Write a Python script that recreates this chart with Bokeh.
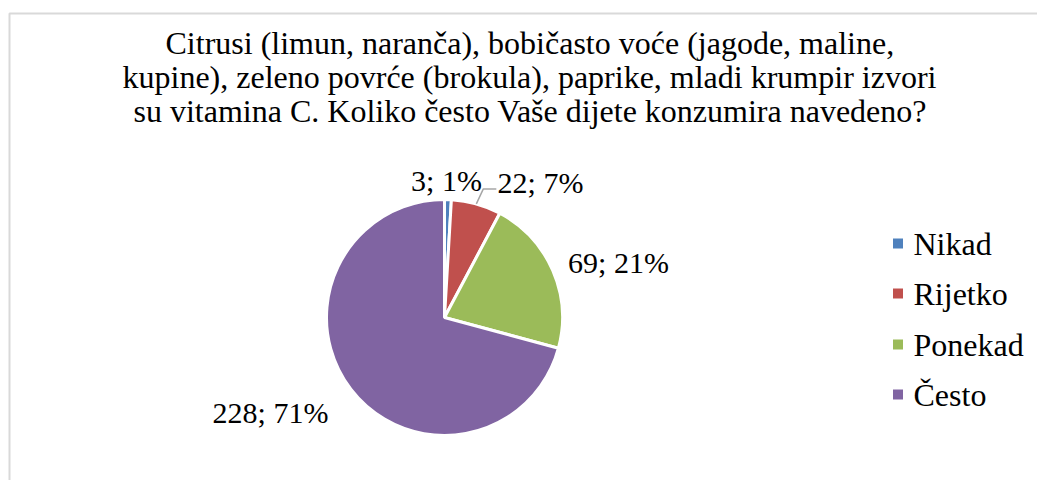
import numpy as np
from bokeh.plotting import figure
from bokeh.models import Range1d
from bokeh.core.properties import value
from bokeh.embed import file_html
from bokeh.resources import INLINE

# ---- data ----
categories = ["Nikad", "Rijetko", "Ponekad", "Često"]
counts = [3, 22, 69, 228]
colors = ["#4F81BD", "#C0504D", "#9BBB59", "#8064A2"]
title_lines = [
    "Citrusi (limun, naranča), bobičasto voće (jagode, maline,",
    "kupine), zeleno povrće (brokula), paprike, mladi krumpir izvori",
    "su vitamina C. Koliko često Vaše dijete konzumira navedeno?",
]

# ---- layout ----
W, H = 1037, 480
FONT = value("'Liberation Serif', 'Times New Roman', serif")


def Y(py):
    # pixel y (from top) -> data y
    return H - py


p = figure(width=W, height=H, output_backend="svg", toolbar_location=None,
           x_range=Range1d(0, W), y_range=Range1d(0, H),
           x_axis_type=None, y_axis_type=None, min_border=0,
           outline_line_color=None, background_fill_color="white",
           border_fill_color="white")
p.grid.visible = False

# chart frame (light grey, left + top)
p.line(x=[9, 9, W], y=[Y(H + 5), Y(13), Y(13)], line_color="#d9d9d9", line_width=2)

# title (one centred paragraph, each line starting where Word put it)
title_x = [165, 122, 133]
title_mid = [42, 76, 110]
for line, tx, ty in zip(title_lines, title_x, title_mid):
    p.text(x=[tx], y=[Y(ty)], text=[line], text_font=FONT,
           text_font_size="32px", text_align="left", text_baseline="middle",
           text_color="black")

# pie
cx, cy, r = 444, Y(317), 118
vals = np.array(counts, dtype=float)
frac = vals / vals.sum()
cum = np.concatenate([[0], np.cumsum(frac)])
start = np.pi / 2 - 2 * np.pi * cum[:-1]
end = np.pi / 2 - 2 * np.pi * cum[1:]
p.wedge(x=cx, y=cy, radius=r, start_angle=start, end_angle=end,
        direction="clock", fill_color=colors, line_color="white", line_width=3)

# data labels (layout offsets from pie centre, pixels: dx, dy-down)
mid = 2 * np.pi * (cum[:-1] + cum[1:]) / 2  # clockwise from top
pct = [f"{int(round(f * 100))}%" for f in frac]
labels = [f"{c}; {q}" for c, q in zip(counts, pct)]
label_off = [(2, -137), (96, -135), (174, -55), (-174, 95)]
lx = [cx + dx for dx, dy in label_off]
ly = [cy - dy for dx, dy in label_off]
p.text(x=lx, y=ly, text=labels, text_font=FONT, text_font_size="30px",
       text_align="center", text_baseline="middle", text_color="black")

# leader line for the "Rijetko" label
ex = cx + r * np.sin(mid[1])
ey = cy + r * np.cos(mid[1])
p.line(x=[ex, ex + 7, ex + 20], y=[ey, ey + 15, ey + 15],
       line_color="#a6a6a6", line_width=1.5)

# legend
sq_y = [243, 293, 344, 394]
for cat, col, yy in zip(categories, colors, sq_y):
    p.rect(x=[897.5], y=[Y(yy)], width=10, height=10, fill_color=col,
           line_color=None)
p.text(x=[913] * 4, y=[Y(v) for v in sq_y], text=categories, text_font=FONT,
       text_font_size="32px", text_align="left", text_baseline="middle",
       text_color="black")

open("out.html", "w").write(file_html(p, INLINE))
